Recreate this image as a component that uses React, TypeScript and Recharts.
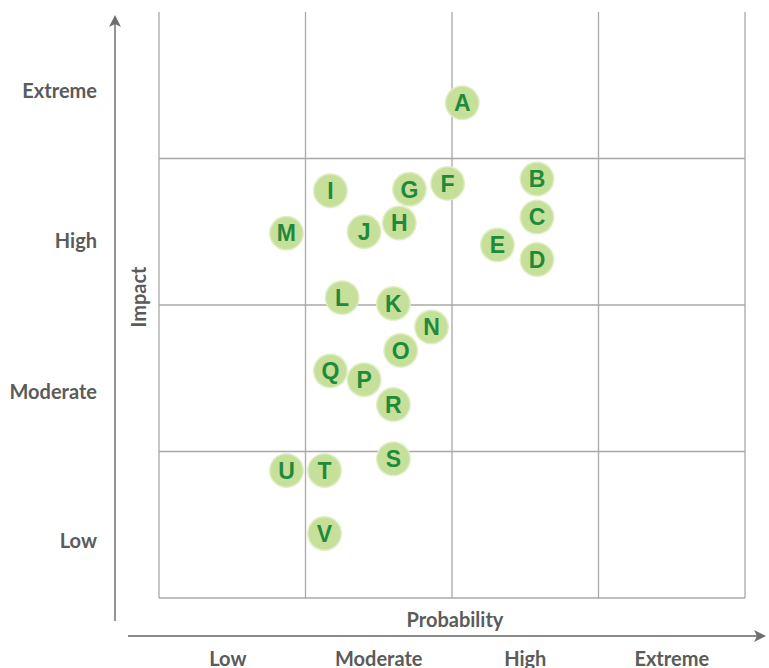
import React from 'react';
import {
  ScatterChart,
  Scatter,
  XAxis,
  YAxis,
  ReferenceLine,
  Customized,
} from 'recharts';

// risk items: probability (x) and impact (y), 0..4 scale, one unit per band
const riskLabels = ['A', 'B', 'C', 'D', 'E', 'F', 'G', 'H', 'I', 'J', 'K', 'L', 'M', 'N', 'O', 'P', 'Q', 'R', 'S', 'T', 'U', 'V'];
const probability = [2.07, 2.58, 2.58, 2.58, 2.31, 1.97, 1.71, 1.64, 1.17, 1.40, 1.60, 1.25, 0.87, 1.86, 1.65, 1.40, 1.17, 1.60, 1.60, 1.13, 0.87, 1.13];
const impact = [3.38, 2.86, 2.60, 2.31, 2.41, 2.83, 2.79, 2.56, 2.78, 2.50, 2.01, 2.05, 2.49, 1.85, 1.69, 1.49, 1.55, 1.32, 0.95, 0.87, 0.87, 0.44];

const probabilityBands = ['Low', 'Moderate', 'High', 'Extreme'];
const probabilityTicks = [0.47, 1.5, 2.5, 3.5];
const impactBands = ['Low', 'Moderate', 'High', 'Extreme'];
const impactTicks = [0.39, 1.41, 2.44, 3.46];

const gridX = [0, 1, 2, 3, 4];
const gridY = [0, 1, 2, 3];

const data = riskLabels.map((name, i) => ({ name, x: probability[i], y: impact[i] }));

const TEXT = '#5b5b5b';
const FONT = 'Lato, "Open Sans", sans-serif';

const Bubble = (props: any) => {
  const { cx, cy, payload } = props;
  return (
    <g>
      <circle cx={cx} cy={cy} r={17.5} fill="#e0eec6" />
      <circle cx={cx} cy={cy} r={16} fill="#c6e099" />
      <text
        x={cx}
        y={cy}
        dy="0.36em"
        textAnchor="middle"
        fontFamily='"Liberation Sans", Arial, sans-serif'
        fontWeight={700}
        fontSize={23}
        fill="#1f8a3c"
      >
        {payload.name}
      </text>
    </g>
  );
};

const XTick = (props: any) => {
  const { x, y, index } = props;
  return (
    <text x={x} y={y + 53} dy="0.36em" textAnchor="middle" fontFamily={FONT} fontWeight={700} fontSize={20} fill={TEXT}>
      {probabilityBands[index]}
    </text>
  );
};

const YTick = (props: any) => {
  const { y, index } = props;
  return (
    <text x={97} y={y} dy="0.36em" textAnchor="end" fontFamily={FONT} fontWeight={700} fontSize={20} fill={TEXT}>
      {impactBands[index]}
    </text>
  );
};

const Decorations = () => (
  <g>
    <defs>
      <marker id="arrowHead" markerWidth="12" markerHeight="12" refX="9" refY="6" orient="auto" markerUnits="userSpaceOnUse">
        <path d="M0,0 L12,6 L0,12 L3,6 Z" fill="#6e6e6e" />
      </marker>
    </defs>
    <line x1={115} y1={621} x2={115} y2={18} stroke="#8a8a8a" strokeWidth={1.8} markerEnd="url(#arrowHead)" />
    <line x1={128} y1={636} x2={763} y2={636} stroke="#8a8a8a" strokeWidth={1.8} markerEnd="url(#arrowHead)" />
    <text x={455} y={620} dy="0.36em" textAnchor="middle" fontFamily={FONT} fontWeight={700} fontSize={20} fill={TEXT}>
      Probability
    </text>
    <text
      x={139}
      y={297}
      dy="0.36em"
      textAnchor="middle"
      transform="rotate(-90 139 297)"
      fontFamily={FONT}
      fontWeight={700}
      fontSize={20}
      fill={TEXT}
    >
      Impact
    </text>
  </g>
);

export default function App() {
  return (
    <div style={{ position: 'absolute', left: 0, top: 0, width: 769, height: 668, background: '#fff' }}>
      <ScatterChart width={769} height={668} margin={{ top: 12, right: 24, bottom: 0, left: 0 }}>
        <XAxis
          type="number"
          dataKey="x"
          domain={[0, 4]}
          ticks={probabilityTicks}
          axisLine={false}
          tickLine={false}
          height={70}
          tick={<XTick />}
          interval={0}
        />
        <YAxis
          type="number"
          dataKey="y"
          domain={[0, 4]}
          ticks={impactTicks}
          axisLine={false}
          tickLine={false}
          width={159}
          tick={<YTick />}
          interval={0}
        />
        {gridX.map((v) => (
          <ReferenceLine key={`vx${v}`} x={v} stroke="#a8a8a8" strokeWidth={1.3} />
        ))}
        {gridY.map((v) => (
          <ReferenceLine key={`hy${v}`} y={v} stroke="#a8a8a8" strokeWidth={1.3} />
        ))}
        <Scatter data={data} shape={<Bubble />} isAnimationActive={false} />
        <Customized component={<Decorations />} />
      </ScatterChart>
    </div>
  );
}
